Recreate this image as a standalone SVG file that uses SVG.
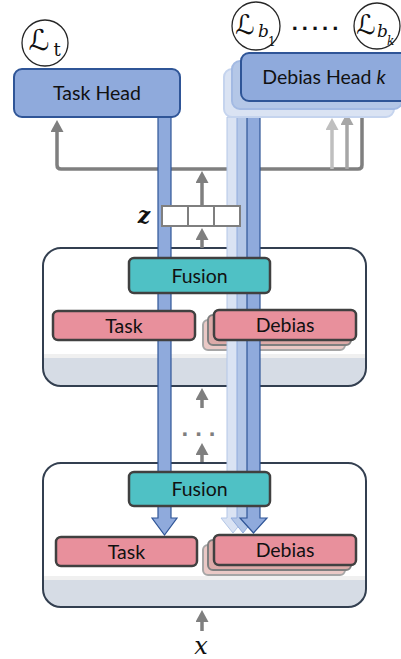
<svg xmlns="http://www.w3.org/2000/svg" width="401" height="659" viewBox="0 0 401 659">
<style>
.lbl{font-family:Lato,"Open Sans","Liberation Sans",sans-serif;font-size:19.5px;fill:#111;text-anchor:middle}
.frame{fill:#fff}
.frameline{fill:none;stroke:#333F50;stroke-width:2}
.band{fill:#D6DCE5}
.strip{fill:#F0F0F0}
.fusion{fill:#4FC1C5;stroke:#404040;stroke-width:2.5}
.pink{fill:#E8909C;stroke:#404040;stroke-width:2.5}
.pink2{fill:#DCAAA8;stroke:#7F7F7F;stroke-width:2}
.pink3{fill:#EAC9C6;stroke:#A6A6A6;stroke-width:2}
.head{fill:#8FAADC;stroke:#2F5597;stroke-width:2}
.head2{fill:#B4C7E7;stroke:#A3BAE3;stroke-width:2}
.head3{fill:#DAE3F3;stroke:#C5D4EE;stroke-width:2}
.bar1{fill:#8FAADC;stroke:#2F5597;stroke-width:1.2}
.bar2{fill:#B4C7E7;stroke:#8FAADC;stroke-width:1}
.bar3{fill:#DAE3F3;stroke:#B4C7E7;stroke-width:1}
.g{fill:none;stroke:#7F7F7F;stroke-width:3.5}
.circ{fill:#fff;stroke:#262626;stroke-width:1.3}
.math{font-family:"DejaVu Serif","DejaVu Sans",serif;fill:#111}
.cell{fill:#fff;stroke:#7F7F7F;stroke-width:2}
</style>
<defs>
<marker id="ah" markerUnits="userSpaceOnUse" markerWidth="12" markerHeight="13" viewBox="0 0 12 13" refX="0" refY="6.5" orient="auto-start-reverse"><path d="M0,0 L12,6.5 L0,13Z" fill="#7F7F7F"/></marker>
<marker id="ah2" markerUnits="userSpaceOnUse" markerWidth="12" markerHeight="13" viewBox="0 0 12 13" refX="0" refY="6.5" orient="auto"><path d="M0,0 L12,6.5 L0,13Z" fill="#A6A6A6"/></marker>
<marker id="ah3" markerUnits="userSpaceOnUse" markerWidth="12" markerHeight="13" viewBox="0 0 12 13" refX="0" refY="6.5" orient="auto"><path d="M0,0 L12,6.5 L0,13Z" fill="#BFBFBF"/></marker>
</defs>

<!-- module frames -->
<g id="module1">
<rect class="frame" x="43" y="248" width="323" height="138" rx="18"/>
<rect class="strip" x="44" y="354" width="321" height="4"/>
<path class="band" d="M43,358 H366 V368 A18,18 0 0 1 348,386 H61 A18,18 0 0 1 43,368 Z"/>
<rect class="frameline" x="43" y="248" width="323" height="138" rx="18"/>
</g>
<g id="module2">
<rect class="frame" x="43" y="463" width="323" height="144" rx="18"/>
<rect class="strip" x="44" y="576" width="321" height="4"/>
<path class="band" d="M43,580 H366 V589 A18,18 0 0 1 348,607 H61 A18,18 0 0 1 43,589 Z"/>
<rect class="frameline" x="43" y="463" width="323" height="144" rx="18"/>
</g>

<g id="debias1-stack">
<rect class="pink3" x="203" y="320" width="142" height="30" rx="5"/>
<rect class="pink2" x="208" y="315" width="143" height="30" rx="5"/>
</g>
<g id="debias2-stack">
<rect class="pink3" x="203" y="545" width="142" height="30" rx="5"/>
<rect class="pink2" x="208" y="540" width="143" height="30" rx="5"/>
</g>

<g id="connectors">
<path class="g" d="M57,132 V165 Q57,169 61,169 H358 Q362,169 362,165 V113" marker-start="url(#ah)" marker-end="url(#ah)"/>
<path fill="none" stroke="#BFBFBF" stroke-width="3.5" d="M332,169 V130" marker-end="url(#ah3)"/>
<path fill="none" stroke="#A6A6A6" stroke-width="3.5" d="M347,169 V125" marker-end="url(#ah2)"/>
<path class="g" d="M202,206 V183" marker-end="url(#ah)"/>
<path class="g" d="M202,248 V240" marker-end="url(#ah)"/>
<path class="g" d="M202,408 V400" marker-end="url(#ah)"/>
<path class="g" d="M202,462 V455" marker-end="url(#ah)"/>
<path class="g" d="M202,631 V622" marker-end="url(#ah)"/>
<path class="bar1" d="M158,117 V518 H152 L164.5,535 L177,518 H171 V117 Z"/>
<path class="bar3" d="M227,117 V518 H221 L233,533 L245,518 H239 V117 Z"/>
<path class="bar2" d="M237,109 V518 H231 L243,533 L255,518 H249 V109 Z"/>
<path class="bar1" d="M247,101 V518 H240 L253.5,533 L267,518 H260 V101 Z"/>
</g>

<text x="202" y="436" font-family="'Liberation Sans',sans-serif" font-size="24" font-weight="bold" fill="#7F7F7F" text-anchor="middle" letter-spacing="7">...</text>

<g id="z-vector">
<rect class="cell" x="162" y="206" width="26" height="20"/>
<rect class="cell" x="188" y="206" width="26" height="20"/>
<rect class="cell" x="214" y="206" width="26" height="20"/>
<text class="math" x="144" y="223" font-size="22" font-weight="bold" font-style="italic" text-anchor="middle">z</text>
</g>

<g id="task-head">
<rect class="head" x="14" y="69" width="166" height="48" rx="8"/>
<text class="lbl" x="97" y="100">Task Head</text>
</g>
<g id="debias-heads">
<rect class="head3" x="224" y="69" width="170" height="48" rx="8"/>
<rect class="head2" x="232" y="61" width="170" height="48" rx="8"/>
<rect class="head" x="241" y="53" width="175" height="48" rx="8"/>
<text class="lbl" x="324" y="84">Debias Head <tspan font-style="italic">k</tspan></text>
</g>

<g id="loss-t">
<circle class="circ" cx="45" cy="43" r="23"/>
<text class="math" x="39" y="50" font-size="29" text-anchor="middle">ℒ</text>
<text class="math" x="57" y="56" font-size="18" text-anchor="middle">t</text>
</g>
<g id="loss-b1">
<circle class="circ" cx="256" cy="26" r="24"/>
<text class="math" x="245" y="34" font-size="27" text-anchor="middle">ℒ</text>
<text class="math" x="258" y="37" font-size="17" font-style="italic">b</text>
<text class="math" x="268" y="46" font-size="12">1</text>
</g>
<text x="317" y="30" font-family="'Liberation Sans',sans-serif" font-size="22" font-weight="bold" fill="#111" text-anchor="middle" letter-spacing="4">.....</text>
<g id="loss-bk">
<circle class="circ" cx="377" cy="26" r="23"/>
<text class="math" x="366" y="34" font-size="27" text-anchor="middle">ℒ</text>
<text class="math" x="377" y="37" font-size="17" font-style="italic">b</text>
<text class="math" x="387" y="45" font-size="12" font-style="italic">k</text>
</g>

<g id="fusion1">
<rect class="fusion" x="129" y="258" width="141" height="35" rx="5"/>
<text class="lbl" x="199.5" y="282.5">Fusion</text>
</g>
<g id="task1">
<rect class="pink" x="53" y="311" width="142" height="29" rx="5"/>
<text class="lbl" x="124" y="332.5">Task</text>
</g>
<g id="debias1">
<rect class="pink" x="214" y="310" width="142" height="30" rx="5"/>
<text class="lbl" x="285" y="332">Debias</text>
</g>

<g id="fusion2">
<rect class="fusion" x="129" y="472" width="141" height="34" rx="5"/>
<text class="lbl" x="199.5" y="496">Fusion</text>
</g>
<g id="task2">
<rect class="pink" x="56" y="537" width="141" height="29" rx="5"/>
<text class="lbl" x="126.5" y="558.5">Task</text>
</g>
<g id="debias2">
<rect class="pink" x="214" y="535" width="142" height="30" rx="5"/>
<text class="lbl" x="285" y="557">Debias</text>
</g>

<text class="math" x="201" y="654" font-size="24" font-style="italic" text-anchor="middle">x</text>
</svg>
